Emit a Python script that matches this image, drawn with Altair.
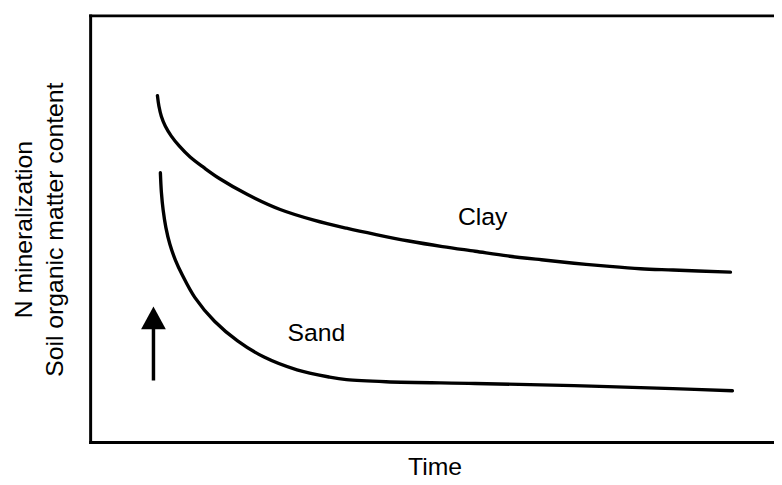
import altair as alt
import pandas as pd

# Curves (time 0-100 across the frame, value 0-100 up the frame)
clay_t = [9.84, 10.06, 10.42, 11.00, 11.87, 13.02, 14.62, 16.64, 18.96, 23.01, 27.79, 32.71,
          37.48, 41.82, 46.60, 51.52, 56.30, 61.07, 65.99, 70.77, 75.54, 80.46, 85.24, 93.63]
clay_v = [81.2, 78.7, 76.3, 74.0, 71.7, 69.4, 66.8, 64.3, 61.7, 58.0, 54.5, 52.0,
          50.1, 48.6, 47.1, 45.8, 44.7, 43.6, 42.7, 41.9, 41.2, 40.6, 40.3, 39.8]
sand_t = [10.27, 10.42, 10.68, 11.07, 11.65, 12.45, 13.46, 15.30, 18.19, 21.56, 25.43, 30.25,
          35.02, 37.48, 43.27, 56.30, 70.77, 85.24, 93.92]
sand_v = [63.1, 58.5, 54.3, 50.3, 46.4, 42.7, 39.2, 33.9, 28.3, 23.7, 19.9, 16.9,
          15.2, 14.6, 14.1, 13.7, 13.2, 12.5, 12.0]

label_text = ["Clay", "Sand"]
label_t = [57.4, 33.1]
label_v = [50.8, 23.7]

arrow_t = [9.26]
arrow_from = [14.4]
arrow_to = [27.0]
arrow_head = [29.1]

x_title = "Time"
y_title = ["N mineralization", "Soil organic matter content"]

FONT = "Liberation Sans"
FS = 25

lines_df = pd.DataFrame({
    "t": clay_t + sand_t,
    "v": clay_v + sand_v,
    "series": ["Clay"] * len(clay_t) + ["Sand"] * len(sand_t),
})
labels_df = pd.DataFrame({"label": label_text, "t": label_t, "v": label_v})
arrow_df = pd.DataFrame({"t": arrow_t, "v0": arrow_from, "v1": arrow_to, "vh": arrow_head})

xs = alt.Scale(domain=[0, 100], nice=False, zero=False)
ys = alt.Scale(domain=[0, 100], nice=False, zero=False)

bottom_axis = alt.Axis(
    orient="bottom", ticks=False, labels=False, grid=False,
    domain=True, domainColor="black", domainWidth=3, domainCap="square",
    title=x_title, titleFont=FONT, titleFontSize=FS, titleFontWeight="normal",
    titleColor="black", titleX=348, titleY=33, titleBaseline="alphabetic",
    titleAlign="center",
)
top_axis = alt.Axis(
    orient="top", ticks=False, labels=False, grid=False, title=None,
    domain=True, domainColor="black", domainWidth=3, domainCap="square",
)
left_axis = alt.Axis(
    orient="left", ticks=False, labels=False, grid=False,
    domain=True, domainColor="black", domainWidth=3, domainCap="square",
    title=y_title, titleFont=FONT, titleFontSize=FS, titleFontWeight="normal",
    titleColor="black", titleAngle=270, titleX=-59, titleY=216,
    titleBaseline="alphabetic", titleAlign="center", titleLineHeight=31,
)

lines = alt.Chart(lines_df).mark_line(
    color="black", strokeWidth=3.4, interpolate="catmull-rom", strokeCap="round"
).encode(
    x=alt.X("t:Q", scale=xs, axis=bottom_axis),
    y=alt.Y("v:Q", scale=ys, axis=left_axis),
    detail="series:N",
)

shaft = alt.Chart(arrow_df).mark_rule(color="black", strokeWidth=3.5).encode(
    x=alt.X("t:Q", scale=xs, axis=None),
    y=alt.Y("v0:Q", scale=ys, axis=left_axis),
    y2="v1:Q",
)

head = alt.Chart(arrow_df).mark_point(
    shape="M0,-0.92L1,0.92L-1,0.92Z", size=625, filled=True, color="black", opacity=1
).encode(
    x=alt.X("t:Q", scale=xs, axis=top_axis),
    y=alt.Y("vh:Q", scale=ys, axis=left_axis),
)

labels = alt.Chart(labels_df).mark_text(
    font=FONT, fontSize=FS, color="black", align="center", baseline="alphabetic"
).encode(
    x=alt.X("t:Q", scale=xs, axis=None),
    y=alt.Y("v:Q", scale=ys, axis=left_axis),
    text="label:N",
)

chart = alt.layer(lines, shaft, head, labels).resolve_axis(x="independent").properties(
    width=691, height=431,
    autosize=alt.AutoSizeParams(type="none"),
    padding={"left": 83, "top": 5, "right": 0, "bottom": 35},
    background="white",
).configure_view(stroke=None)

chart.save("out.html", embed_options={"renderer": "svg", "actions": False})
